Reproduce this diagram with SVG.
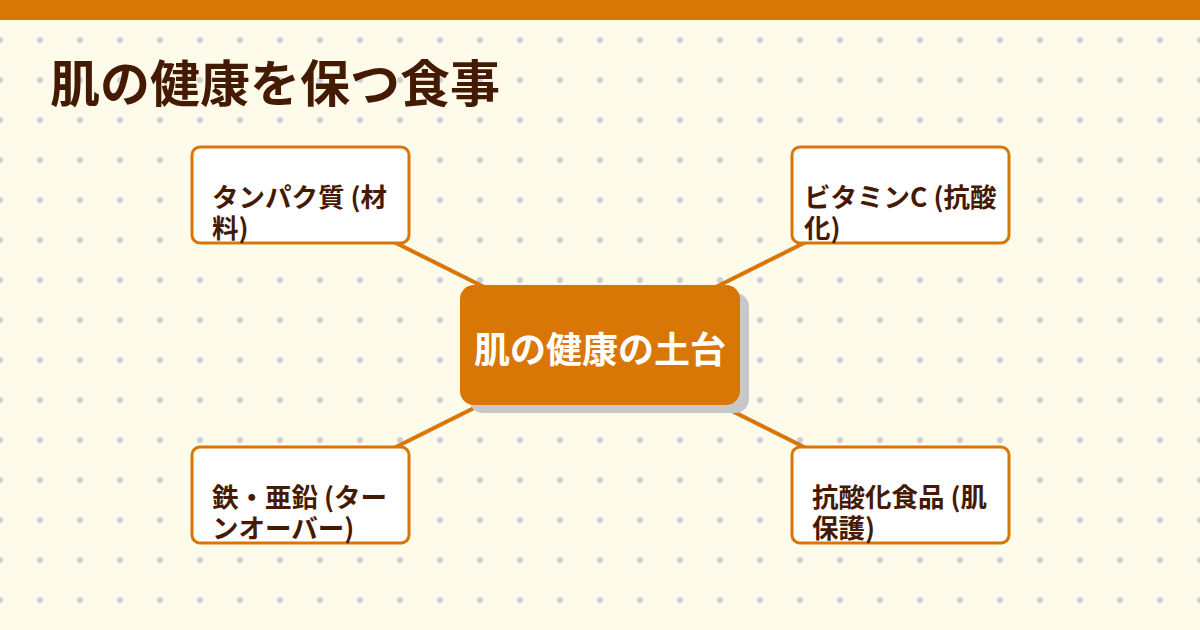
<svg xmlns="http://www.w3.org/2000/svg" width="1200" height="630" viewBox="0 0 1200 630">
  <defs>
    <pattern id="dots" patternUnits="userSpaceOnUse" x="20" y="20" width="40" height="40">
      <circle cx="20" cy="20" r="3.1" fill="#cdd1dc"/>
    </pattern>
    <style>
      .box { fill: #ffffff; stroke: #d97706; stroke-width: 3; }
      .lbl { font-family: "Noto Sans CJK JP", "Noto Sans", sans-serif; font-weight: 700; font-size: 26.5px; fill: #451a03; }
      .conn { stroke: #d97706; stroke-width: 4; fill: none; }
    </style>
  </defs>
  <rect width="1200" height="630" fill="#fffbeb"/>
  <rect width="1200" height="630" fill="url(#dots)"/>
  <rect x="0" y="0" width="1200" height="20" fill="#d97706"/>
  <text x="50" y="102" font-family="Noto Sans CJK JP, sans-serif" font-weight="700" font-size="50" fill="#451a03">肌の健康を保つ食事</text>

  <g id="connectors">
    <line class="conn" x1="300" y1="195" x2="600" y2="345"/>
    <line class="conn" x1="900" y1="195" x2="600" y2="345"/>
    <line class="conn" x1="300" y1="495" x2="600" y2="345"/>
    <line class="conn" x1="900" y1="495" x2="600" y2="345"/>
  </g>

  <g id="center">
    <rect x="469" y="293" width="280" height="120" rx="14" fill="#c8c8c8"/>
    <rect x="460" y="285" width="280" height="120" rx="14" fill="#d97706"/>
    <text x="600" y="363" text-anchor="middle" font-family="Noto Sans CJK JP, sans-serif" font-weight="700" font-size="36" fill="#ffffff">肌の健康の土台</text>
  </g>

  <g id="node-protein">
    <rect class="box" x="192" y="147" width="217" height="96" rx="8"/>
    <text class="lbl" x="212" y="207">タンパク質 (材</text>
    <text class="lbl" x="212" y="238">料)</text>
  </g>
  <g id="node-vitc">
    <rect class="box" x="792" y="147" width="217" height="96" rx="8"/>
    <text class="lbl" x="804" y="207">ビタミンC (抗酸</text>
    <text class="lbl" x="804" y="238">化)</text>
  </g>
  <g id="node-iron">
    <rect class="box" x="192" y="447" width="217" height="96" rx="8"/>
    <text class="lbl" x="212" y="507">鉄・亜鉛 (ター</text>
    <text class="lbl" x="212" y="538">ンオーバー)</text>
  </g>
  <g id="node-antiox">
    <rect class="box" x="792" y="447" width="217" height="96" rx="8"/>
    <text class="lbl" x="812" y="507">抗酸化食品 (肌</text>
    <text class="lbl" x="812" y="538">保護)</text>
  </g>
</svg>
